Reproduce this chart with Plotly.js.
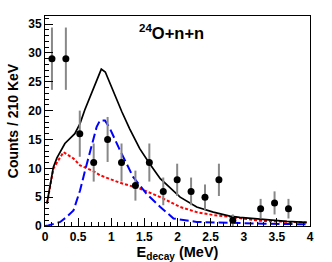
<!DOCTYPE html>
<html><head><meta charset="utf-8">
<script src="https://cdn.plot.ly/plotly-3.0.1.min.js"></script>
<style>html,body{margin:0;padding:0;background:#fff}#plot{width:332px;height:262px}</style>
</head><body><div id="plot"></div>
<script>
const dataX = [0.105,0.315,0.525,0.735,0.945,1.155,1.365,1.575,1.785,1.995,2.205,2.415,2.625,2.835,3.255,3.465,3.675];
const dataY = [29,29,16,11,15,11,7,11,6,8,6,5,8,1,3,4,3];
const dataErr = [5.4,5.4,4.0,3.3,3.9,3.3,2.6,3.3,2.4,2.8,2.4,2.2,2.8,1.0,1.7,2.0,1.7];

const totalX = [0.03,0.126,0.18,0.226,0.30,0.45,0.53,0.60,0.68,0.76,0.85,0.91,1.03,1.16,1.28,1.43,1.58,1.74,2.04,2.29,2.54,2.79,2.94,3.25,3.65,3.95];
const totalY = [3.9,10.2,11.8,12.8,14.3,16.0,17.8,20.1,22.3,24.7,27.2,26.7,23.3,19.8,16.8,13.4,10.8,8.2,5.0,3.3,2.4,1.7,1.5,1.16,0.8,0.64];

const resX = [0,0.05,0.23,0.33,0.43,0.48,0.53,0.6,0.7,0.78,0.83,0.905,0.98,1.12,1.33,1.53,1.74,1.94,2.29,2.79,3.3,3.95];
const resY = [0,0.1,0.7,1.6,2.7,4.5,6.2,9.4,13.7,17.2,18.3,18.3,16.9,13.4,8.5,5.6,3.3,1.3,0.7,0.5,0.4,0.3];

const bgX = [0.03,0.126,0.19,0.28,0.43,0.53,0.73,0.83,1.13,1.43,1.74,2.04,2.29,2.54,2.79,3.25,3.95];
const bgY = [3.9,9.9,11.2,12.8,11.7,10.5,9.5,8.8,7.5,6.5,5.0,3.3,2.4,1.9,1.6,0.9,0.6];

const font = {family:'Liberation Sans, Arial, sans-serif', color:'#000'};
const traces = [
  {x:bgX, y:bgY, mode:'lines', line:{color:'#ff0000', width:2, dash:'3px,2px'}, hoverinfo:'skip'},
  {x:resX, y:resY, mode:'lines', line:{color:'#0000ff', width:2, dash:'9px,4px'}, hoverinfo:'skip'},
  {x:totalX, y:totalY, mode:'lines', line:{color:'#000', width:1.7}, hoverinfo:'skip'},
  {x:dataX, y:dataY, mode:'markers', marker:{color:'#000', size:7},
   error_y:{type:'data', array:dataErr, visible:true, color:'#888', thickness:2, width:0}}
];
const layout = {
  width:332, height:262, showlegend:false,
  margin:{l:45, r:22, t:16, b:36},
  paper_bgcolor:'#fff', plot_bgcolor:'#fff',
  xaxis:{range:[0,4], dtick:0.5, tick0:0, ticks:'inside', ticklen:8, tickcolor:'#000',
    minor:{dtick:0.1, ticks:'inside', ticklen:4, tickcolor:'#000'},
    showline:true, mirror:true, linecolor:'#000', linewidth:1, showgrid:false, zeroline:false,
    tickfont:{...font, size:12, weight:'bold'},
    title:{text:'E<sub>decay</sub> (MeV)', font:{...font, size:14.5, weight:'bold'}, standoff:4}},
  yaxis:{range:[0,36.4], dtick:5, tick0:0, ticks:'inside', ticklen:8, tickcolor:'#000',
    minor:{dtick:1, ticks:'inside', ticklen:4, tickcolor:'#000'},
    showline:true, mirror:true, linecolor:'#000', linewidth:1, showgrid:false, zeroline:false,
    tickfont:{...font, size:12, weight:'bold'},
    title:{text:'Counts / 210 KeV', font:{...font, size:14, weight:'bold'}, standoff:6}},
  annotations:[{xref:'paper', yref:'paper', x:0.348, y:0.924, xanchor:'left', yanchor:'middle',
    showarrow:false, text:'<sup>24</sup>O+n+n', font:{...font, size:16.5, weight:'bold'}}]
};
Plotly.newPlot('plot', traces, layout, {staticPlot:true, displayModeBar:false});
</script></body></html>
